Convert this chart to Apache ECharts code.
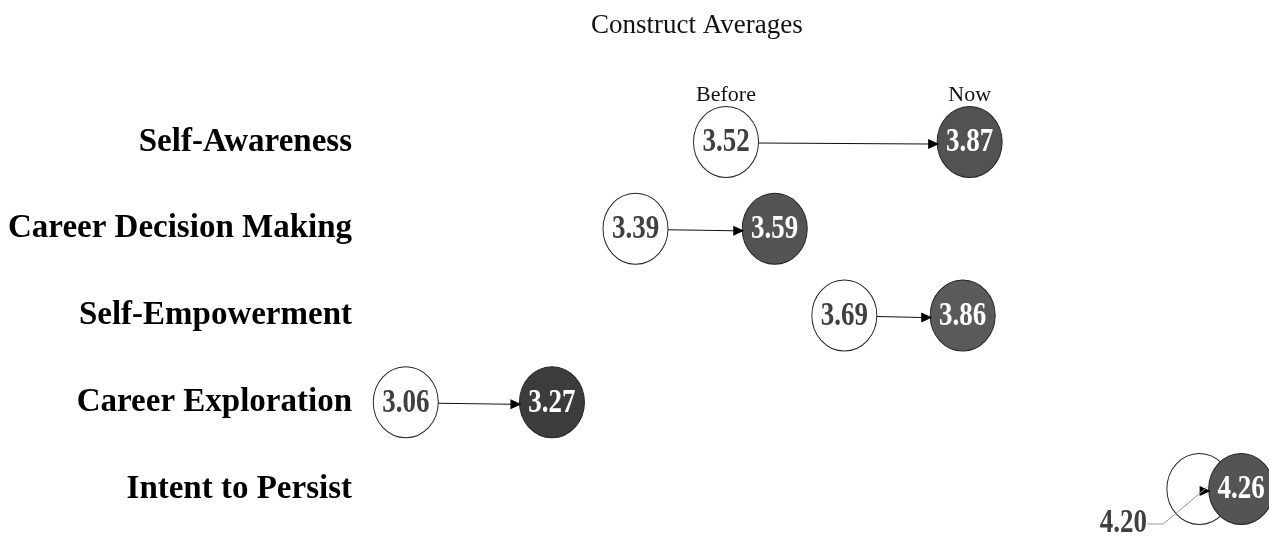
<!DOCTYPE html>
<html>
<head>
<meta charset="utf-8">
<script src="https://cdn.jsdelivr.net/npm/echarts@6/dist/echarts.min.js"></script>
<style>
html,body{margin:0;padding:0;background:#fff;}
#chart{width:1269px;height:537px;}
</style>
</head>
<body>
<div id="chart"></div>
<script>
// ---- data ----
const categories = ['Self-Awareness', 'Career Decision Making', 'Self-Empowerment', 'Career Exploration', 'Intent to Persist'];
const beforeValues = [3.52, 3.39, 3.69, 3.06, 4.20];
const nowValues = [3.87, 3.59, 3.86, 3.27, 4.26];
const headerLabels = ['Before', 'Now'];
const titleText = 'Construct Averages';

// ---- style ----
const FONT = "'Liberation Serif', 'Times New Roman', serif";
const nowColors = ['#525252', '#545454', '#5a5a5a', '#3c3c3c', '#545454'];
const SYM_W = 65, SYM_H = 71;
const RX = SYM_W / 2;
const outsideLabelIndex = 4; // row whose "before" label sits outside with a leader line
const NUM_FONT = 'bold 27px ' + FONT;
const NUM_SCALE_Y = 1.22;

const chart = echarts.init(document.getElementById('chart'), null, {renderer: 'canvas'});

const beforeData = beforeValues.map((v, i) => ({value: [v, categories[i]]}));
const nowData = nowValues.map((v, i) => ({
  value: [v, categories[i]],
  itemStyle: {color: nowColors[i]}
}));
const arrowData = categories.map((c, i) => [beforeValues[i], i, nowValues[i]]);

function numText(str, x, y, color) {
  return {
    type: 'text', x: x, y: y, scaleY: NUM_SCALE_Y,
    style: {text: str, x: 0, y: 0, align: 'center', verticalAlign: 'middle', font: NUM_FONT, fill: color}
  };
}

const option = {
  animation: false,
  backgroundColor: '#ffffff',
  title: {
    text: titleText,
    left: 586,
    top: 7,
    textStyle: {fontFamily: FONT, fontSize: 27, fontWeight: 'normal', color: '#111'}
  },
  grid: {left: 364, top: 98.6, width: 907, height: 433.75, containLabel: false},
  xAxis: {
    type: 'value', min: 3.0, max: 4.3, show: false,
    splitLine: {show: false}
  },
  yAxis: {
    type: 'category',
    data: categories,
    inverse: true,
    axisLine: {show: false},
    axisTick: {show: false},
    splitLine: {show: false},
    axisLabel: {
      margin: 12,
      fontFamily: FONT, fontSize: 33, fontWeight: 'bold', color: '#000',
      padding: [0, 0, 8, 0]
    }
  },
  series: [
    {
      name: 'Before',
      type: 'scatter',
      clip: false,
      z: 2,
      symbol: 'circle',
      symbolSize: [SYM_W, SYM_H],
      itemStyle: {color: '#ffffff', borderColor: '#222', borderWidth: 1, opacity: 1},
      emphasis: {disabled: true},
      data: beforeData
    },
    {
      name: 'Now',
      type: 'scatter',
      clip: false,
      z: 3,
      symbol: 'circle',
      symbolSize: [SYM_W, SYM_H],
      itemStyle: {borderColor: '#222', borderWidth: 1, opacity: 1},
      emphasis: {disabled: true},
      data: nowData
    },
    {
      name: 'arrows',
      type: 'custom',
      z: 4,
      clip: false,
      encode: {x: [0, 2], y: 1},
      renderItem: function (params, api) {
        const row = api.value(1);
        const vb = api.value(0), vn = api.value(2);
        const p0 = api.coord([vb, row]);
        const p1 = api.coord([vn, row]);
        const headLen = 11, headHalf = 5;
        const x1 = p0[0] + RX;
        const tip = p1[0] - RX + 2;
        const y = p0[1] + 1;
        const children = [];
        if (x1 < tip - headLen) {
          children.push({
            type: 'line',
            shape: {x1: x1, y1: y, x2: tip - headLen + 1, y2: y + 1},
            style: {stroke: '#111', lineWidth: 1.2}
          });
        }
        children.push({
          type: 'polygon',
          shape: {points: [[tip, y + 1], [tip - headLen, y + 1 - headHalf], [tip - headLen, y + 1 + headHalf]]},
          style: {fill: '#000'}
        });
        // value labels
        if (params.dataIndex === outsideLabelIndex) {
          children.push({
            type: 'polyline',
            shape: {points: [[p0[0] - 52, p0[1] + 35], [p0[0] - 36, p0[1] + 35], [p0[0] + 8, p0[1] - 2]]},
            style: {stroke: '#999', lineWidth: 1, fill: null}
          });
          children.push(numText(vb.toFixed(2), p0[0] - 76, p0[1] + 35, '#404040'));
        } else {
          children.push(numText(vb.toFixed(2), p0[0], p0[1] + 1, '#404040'));
        }
        children.push(numText(vn.toFixed(2), p1[0], p1[1] + 1, '#ffffff'));
        if (params.dataIndex === 0) {
          children.push({
            type: 'text',
            style: {text: headerLabels[0], x: p0[0], y: p0[1] - 47, align: 'center', verticalAlign: 'middle',
              font: '22px ' + FONT, fill: '#111'}
          });
          children.push({
            type: 'text',
            style: {text: headerLabels[1], x: p1[0], y: p1[1] - 47, align: 'center', verticalAlign: 'middle',
              font: '22px ' + FONT, fill: '#111'}
          });
        }
        return {type: 'group', children: children};
      },
      data: arrowData
    }
  ]
};
chart.setOption(option);
</script>
</body>
</html>
